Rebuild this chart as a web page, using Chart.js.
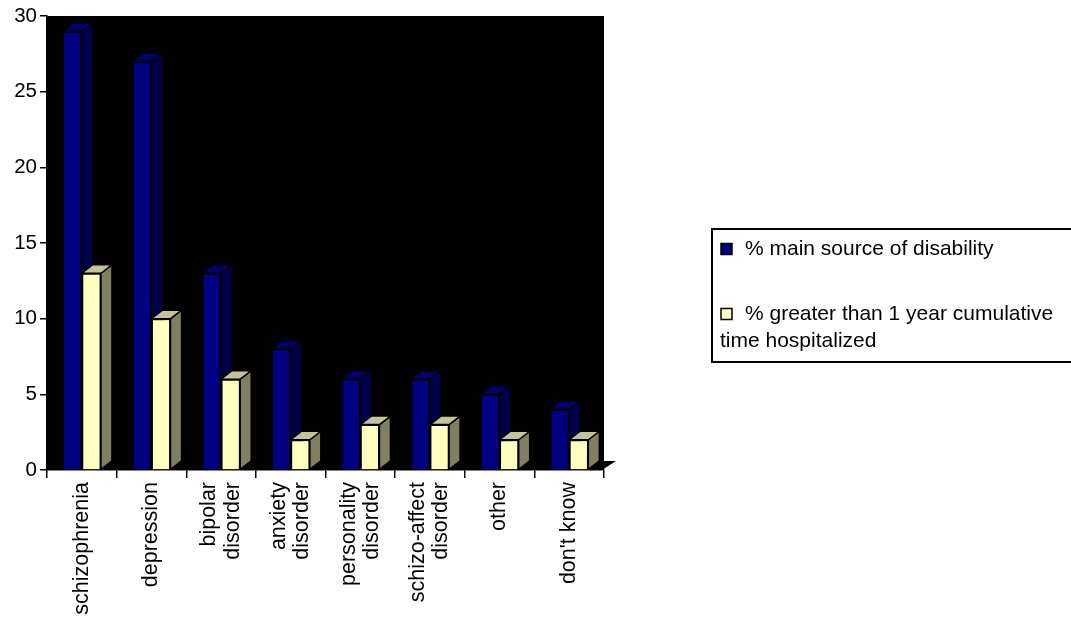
<!DOCTYPE html>
<html>
<head>
<meta charset="utf-8">
<script src="https://cdn.jsdelivr.net/npm/chart.js@4/dist/chart.umd.min.js"></script>
<style>
  html, body { margin: 0; padding: 0; background: #fff; }
  #wrap { width: 1071px; height: 619px; position: relative; }
</style>
</head>
<body>
<div id="wrap"><canvas id="c" width="1071" height="619"></canvas></div>
<script>
// Diagnoses along the category axis (multi-word ones split over two lines)
const categories = [
  'schizophrenia',
  'depression',
  ['bipolar', 'disorder'],
  ['anxiety', 'disorder'],
  ['personality', 'disorder'],
  ['schizo-affect', 'disorder'],
  'other',
  "don't know"
];

// Percent of respondents per diagnosis
const mainSource   = [29, 27, 13, 8, 6, 6, 5, 4];
const hospitalized = [13, 10, 6, 2, 3, 3, 2, 2];

const seriesNames = [
  '% main source of disability',
  '% greater than 1 year cumulative time hospitalized'
];

// Value axis ticks
const yMin = 0, yMax = 30, yStep = 5;

const FONT = '"Liberation Sans", Arial, Helvetica, sans-serif';

// Face colours for the extruded bars: front, side, top
const faceColors = [
  { front: '#000080', side: '#00004A', top: '#000068' },
  { front: '#FFFFC0', side: '#808060', top: '#C4C49C' }
];

// Extrusion depth of bars and floor
const DX = 11, DY = 8.5;

function poly(ctx, pts, fill) {
  ctx.beginPath();
  ctx.moveTo(pts[0][0], pts[0][1]);
  for (let i = 1; i < pts.length; i++) ctx.lineTo(pts[i][0], pts[i][1]);
  ctx.closePath();
  ctx.fillStyle = fill;
  ctx.fill();
  ctx.stroke();
}

function drawFaces(ctx, bar, colors) {
  const { x, y, base, width } = bar.getProps(['x', 'y', 'base', 'width'], true);
  const l = x - width / 2, r = x + width / 2;
  ctx.save();
  ctx.lineWidth = 1.5;
  ctx.strokeStyle = '#000';
  ctx.lineJoin = 'round';
  poly(ctx, [[r, base], [r + DX, base - DY], [r + DX, y - DY], [r, y]], colors.side);
  poly(ctx, [[l, y], [l + DX, y - DY], [r + DX, y - DY], [r, y]], colors.top);
  ctx.restore();
}

const solidBars = {
  id: 'solidBars',
  beforeDraw(chart) {
    const { ctx, chartArea: a } = chart;
    // black back wall plus the visible corner of the floor
    ctx.save();
    ctx.fillStyle = '#000';
    ctx.fillRect(a.left, a.top, a.right - a.left, a.bottom - a.top);
    ctx.beginPath();
    ctx.moveTo(a.right - 2, a.bottom);
    ctx.lineTo(a.right - 1, a.bottom - 9);
    ctx.lineTo(a.right + 12, a.bottom - 9);
    ctx.closePath();
    ctx.fill();
    ctx.restore();

    // centre two-line category labels on their tick
    const xs = chart.scales.x;
    const items = xs.getLabelItems();
    items.forEach(item => {
      if (item._centred) return;
      const lines = Array.isArray(item.label) ? item.label.length : 1;
      item.options.translation[0] -= (lines - 1) * item.font.lineHeight / 2;
      item._centred = true;
    });
  },
  afterDatasetsDraw(chart) {
    const ctx = chart.ctx;
    const m0 = chart.getDatasetMeta(0);
    const m1 = chart.getDatasetMeta(1);
    m0.data.forEach(bar => drawFaces(ctx, bar, faceColors[0]));
    m1.data.forEach(bar => {
      bar.draw(ctx);
      drawFaces(ctx, bar, faceColors[1]);
    });
  },
  afterDraw(chart) {
    // boxed legend on the right
    const ctx = chart.ctx;
    ctx.save();
    ctx.strokeStyle = '#000';
    ctx.lineWidth = 2;
    ctx.strokeRect(712, 229, 420, 133);
    ctx.font = '21px ' + FONT;
    ctx.fillStyle = '#000';
    ctx.textBaseline = 'middle';
    const rows = [249, 314];
    seriesNames.forEach((name, i) => {
      const y = rows[i];
      ctx.fillStyle = faceColors[i].front;
      ctx.fillRect(721, y - 5.5, 11, 11);
      ctx.lineWidth = 1.5;
      ctx.strokeRect(721, y - 5.5, 11, 11);
      ctx.fillStyle = '#000';
      // word wrap, continuation lines start under the swatch
      const words = name.split(' ');
      let line = '', lx = 745, ly = y, maxW = 320;
      words.forEach(w => {
        const test = line ? line + ' ' + w : w;
        if (line && ctx.measureText(test).width > maxW) {
          ctx.fillText(line, lx, ly);
          line = w; lx = 720; ly += 27; maxW = 340;
        } else {
          line = test;
        }
      });
      ctx.fillText(line, lx, ly);
    });
    ctx.restore();
  }
};

new Chart(document.getElementById('c'), {
  type: 'bar',
  data: {
    labels: categories,
    datasets: [
      {
        label: seriesNames[0],
        data: mainSource,
        backgroundColor: faceColors[0].front,
        borderColor: '#000',
        borderWidth: 1.5
      },
      {
        label: seriesNames[1],
        data: hospitalized,
        backgroundColor: faceColors[1].front,
        borderColor: '#000',
        borderWidth: 1.5
      }
    ]
  },
  options: {
    responsive: false,
    animation: false,
    events: [],
    categoryPercentage: 0.55,
    barPercentage: 1.0,
    layout: { padding: { left: 0, top: 16, right: 467, bottom: 0 } },
    plugins: {
      legend: { display: false },
      tooltip: { enabled: false }
    },
    scales: {
      x: {
        offset: true,
        grid: {
          offset: true,
          drawOnChartArea: false,
          tickLength: 8,
          color: '#000',
          lineWidth: 1.5
        },
        border: { display: true, color: '#000', width: 1.5 },
        ticks: {
          autoSkip: false,
          minRotation: 90,
          maxRotation: 90,
          padding: 4,
          color: '#000',
          font: { family: FONT, size: 21.5, lineHeight: 1.08 }
        },
        afterFit(scale) { scale.height = 149; }
      },
      y: {
        min: yMin,
        max: yMax,
        grid: {
          drawOnChartArea: false,
          tickLength: 7,
          color: '#000',
          lineWidth: 1.5
        },
        border: { display: true, color: '#000', width: 1.5 },
        ticks: {
          stepSize: yStep,
          padding: 3,
          color: '#000',
          font: { family: FONT, size: 20.5 }
        },
        afterFit(scale) { scale.width = 47; }
      }
    }
  },
  plugins: [solidBars]
});
</script>
</body>
</html>
